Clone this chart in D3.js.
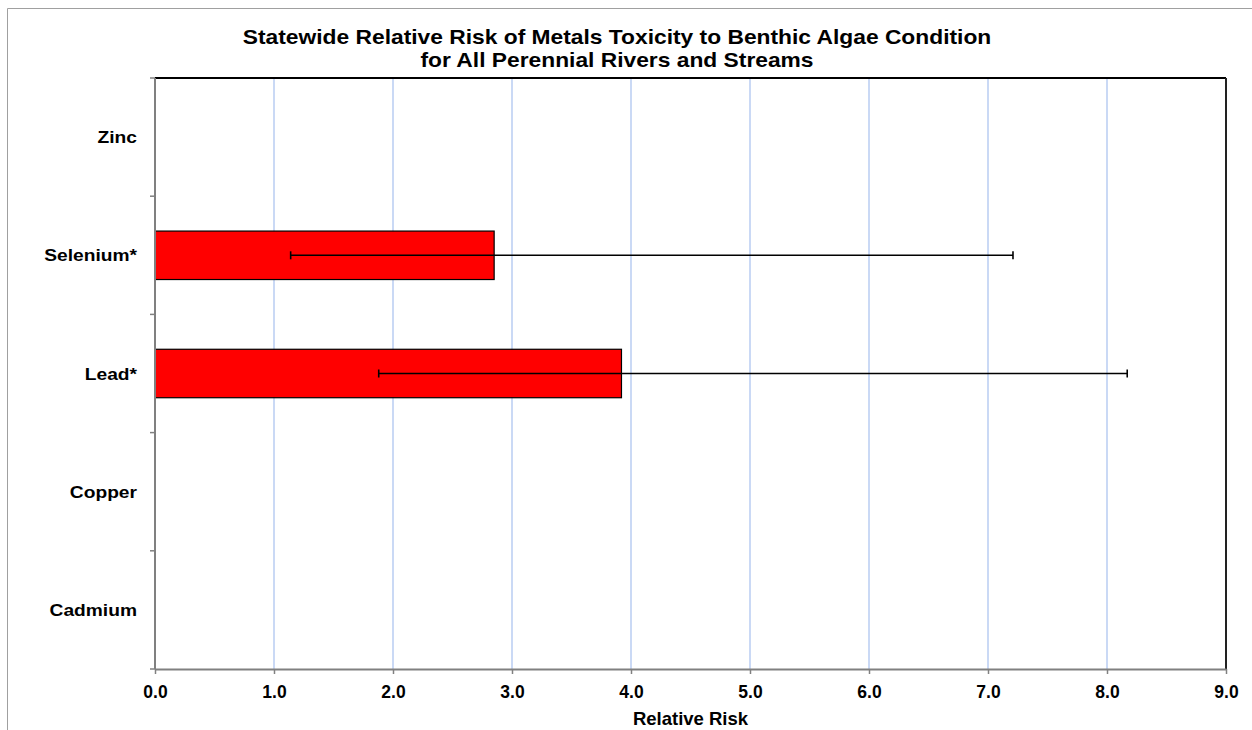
<!DOCTYPE html>
<html><head><meta charset="utf-8">
<script src="https://cdn.jsdelivr.net/npm/d3@7"></script>
<style>
body{margin:0;background:#fff;}
text{font-family:"Liberation Sans",Arial,sans-serif;font-weight:bold;fill:#000;}
</style></head>
<body>
<svg id="chart" width="1252" height="730"></svg>
<script>
const categories = ["Zinc","Selenium*","Lead*","Copper","Cadmium"];
const riskValues = [null, 2.85, 3.92, null, null];
const ciLow = [null, 1.14, 1.88, null, null];
const ciHigh = [null, 7.21, 8.17, null, null];
const xTicks = [0,1,2,3,4,5,6,7,8,9];
const titleLines = ["Statewide Relative Risk of Metals Toxicity to Benthic Algae Condition","for All Perennial Rivers and Streams"];
const xTitle = "Relative Risk";

const svg = d3.select("#chart");
const m = {left:155, right:1226, top:78, bottom:669};

// outer frame
svg.append("path").attr("d","M7.5,730 V8.5 H1252").attr("fill","none").attr("stroke","#a0a0a0").attr("stroke-width",1);

const x = d3.scaleLinear().domain([0,9]).range([m.left,m.right]);
const y = d3.scaleBand().domain(categories).range([m.top,m.bottom]).paddingInner(0.59).paddingOuter(0.295);

// gridlines
svg.append("g").selectAll("line").data(xTicks.filter(t=>t>0&&t<9)).join("line")
  .attr("x1",d=>x(d)).attr("x2",d=>x(d)).attr("y1",m.top).attr("y2",m.bottom)
  .attr("stroke","#b8cdf2").attr("stroke-width",1.5);

// top and right border
svg.append("line").attr("x1",m.left).attr("x2",m.right).attr("y1",m.top).attr("y2",m.top).attr("stroke","#000").attr("stroke-width",2);
svg.append("line").attr("x1",m.right).attr("x2",m.right).attr("y1",m.top).attr("y2",m.bottom).attr("stroke","#222").attr("stroke-width",2);

// bars
const data = categories.map((c,i)=>({c, v:riskValues[i], lo:ciLow[i], hi:ciHigh[i]})).filter(d=>d.v!=null);
svg.append("g").selectAll("rect").data(data).join("rect")
  .attr("x",x(0)).attr("y",d=>y(d.c)).attr("width",d=>x(d.v)-x(0)).attr("height",y.bandwidth())
  .attr("fill","#ff0000").attr("stroke","#000").attr("stroke-width",1.2);

// error bars
const eb = svg.append("g").attr("stroke","#000").attr("stroke-width",1.6);
data.forEach(d=>{
  const cy = y(d.c)+y.bandwidth()/2;
  eb.append("line").attr("x1",x(d.lo)).attr("x2",x(d.hi)).attr("y1",cy).attr("y2",cy);
  eb.append("line").attr("x1",x(d.lo)).attr("x2",x(d.lo)).attr("y1",cy-4).attr("y2",cy+4);
  eb.append("line").attr("x1",x(d.hi)).attr("x2",x(d.hi)).attr("y1",cy-4).attr("y2",cy+4);
});

// x axis
const xa = svg.append("g").attr("transform",`translate(0,${m.bottom})`)
  .call(d3.axisBottom(x).tickValues(xTicks).tickFormat(d3.format(".1f")).tickSizeInner(5).tickSizeOuter(0).tickPadding(10));
xa.select(".domain").attr("stroke","#808080").attr("stroke-width",2);
xa.selectAll(".tick line").attr("stroke","#808080").attr("stroke-width",1.5);
xa.selectAll(".tick text").attr("font-size",17.5).attr("font-family","Liberation Sans, Arial, sans-serif")
  .attr("font-weight","bold").attr("fill","#000").attr("y",29).attr("dy",null);

// y axis line and boundary ticks
const ya = svg.append("g");
ya.append("line").attr("x1",m.left).attr("x2",m.left).attr("y1",m.top).attr("y2",m.bottom).attr("stroke","#808080").attr("stroke-width",2);
const bounds = categories.map(c=>y(c)-y.step()*y.paddingInner()/2).concat([m.bottom]);
ya.selectAll("line.t").data(bounds).join("line").attr("class","t")
  .attr("x1",m.left-5).attr("x2",m.left).attr("y1",d=>d).attr("y2",d=>d)
  .attr("stroke","#808080").attr("stroke-width",1.5);
ya.selectAll("text").data(categories).join("text")
  .attr("transform",d=>`translate(137,${y(d)+y.bandwidth()/2+6}) scale(1.13,1)`)
  .attr("text-anchor","end").attr("font-size",17).text(d=>d);

// titles
svg.append("g").selectAll("text").data(titleLines).join("text")
  .attr("transform",(d,i)=>`translate(617,${44+i*23}) scale(1.14,1)`)
  .attr("text-anchor","middle").attr("font-size",20).text(d=>d);
svg.append("text").attr("x",(m.left+m.right)/2).attr("y",725)
  .attr("text-anchor","middle").attr("font-size",18.5).text(xTitle);
</script>
</body></html>
